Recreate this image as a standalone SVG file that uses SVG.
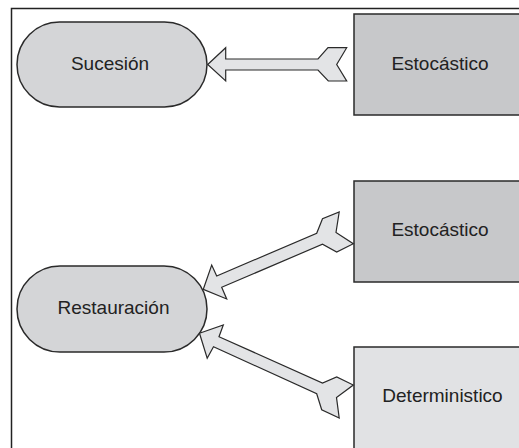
<svg xmlns="http://www.w3.org/2000/svg" width="519" height="448" viewBox="0 0 519 448">
<style>
.frame{fill:none;stroke:#222;stroke-width:1.5}
.node{stroke:#2a2a2a;stroke-width:1.5}
.dark{fill:#c7c8ca}
.mid{fill:#d4d5d7}
.light{fill:#e1e2e4}
.lbl{font-family:"Liberation Sans",Arial,sans-serif;font-size:19px;fill:#222;text-anchor:middle}
.arrow{fill:#e3e4e6;stroke:#2a2a2a;stroke-width:1.2;stroke-linejoin:miter}
</style>
<rect width="519" height="448" fill="#ffffff"/>
<rect class="frame" x="11.5" y="8.5" width="530" height="460"/>
<g id="sucesion">
<rect class="node mid" x="17" y="22" width="190" height="85" rx="42.5" ry="42.5"/>
<text class="lbl" x="110" y="69.5">Sucesión</text>
</g>
<g id="estocastico1">
<rect class="node dark" x="354" y="14" width="200" height="101"/>
<text class="lbl" x="440" y="69.5">Estocástico</text>
</g>
<g id="estocastico2">
<rect class="node dark" x="354" y="181" width="200" height="101"/>
<text class="lbl" x="440" y="236">Estocástico</text>
</g>
<g id="restauracion">
<rect class="node mid" x="17" y="266" width="190" height="86" rx="43" ry="43"/>
<text class="lbl" x="113.5" y="314">Restauración</text>
</g>
<g id="deterministico">
<rect class="node light" x="354" y="347" width="200" height="120"/>
<text class="lbl" x="442.5" y="402">Deterministico</text>
</g>
<g id="connectors">
<polygon class="arrow" points="207.7,64.5 225.7,47.7 225.7,59 318,59 328,47.7 346.7,47.7 336.7,64.5 346.7,81 328.3,81 318,70 225.7,70 225.7,81"/>
<polygon class="arrow" points="203.3,289.3 211.7,265 216.7,276 316.7,233.3 322.5,218.8 339.2,212 336,232.5 353.3,243.8 336.7,252 322.5,244.2 221.7,287.3 226.7,299"/>
<polygon class="arrow" points="199.5,333.3 223.3,325 219,336.7 322.5,383 336.7,377 353.3,385 336.5,397.5 339.2,418 321.7,409.7 316.7,393.7 213.5,346.7 207.2,358.3"/>
</g>
</svg>
